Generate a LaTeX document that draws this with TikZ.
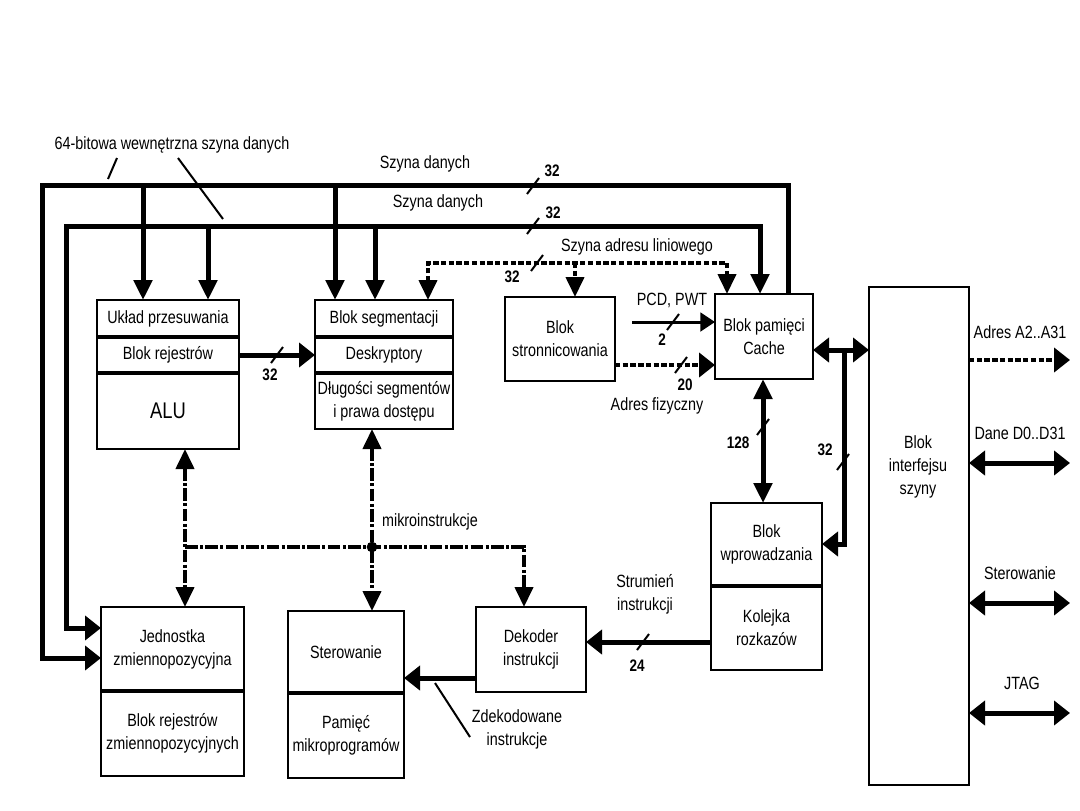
\documentclass[tikz,border=0pt]{standalone}
\usepackage{fontspec}
\setmainfont{Liberation Sans}[FakeStretch=0.81]
\usetikzlibrary{arrows.meta}
\newcommand\lblfont{\fontsize{13.3}{17.3}\selectfont}
\newcommand\numfont{\fontsize{12.5}{14}\selectfont\bfseries}
\newcommand\bigfont{\fontsize{17}{20}\selectfont}
\tikzset{
 Tv/.tip={Triangle[length=15pt,width=13.5pt]},
 Th/.tip={Triangle[length=12pt,width=18pt]},
 Ts/.tip={Triangle[length=11pt,width=14pt]},
 box/.style={draw, line width=2pt, inner sep=0pt, outer sep=0pt, align=center, font=\lblfont},
 bus/.style={line width=3.75pt},
 thinbus/.style={line width=2.25pt},
 dotbus/.style={line width=3pt, dash pattern=on 4pt off 1.8pt},
 ctrl/.style={line width=3pt, dash pattern=on 9.5pt off 1.8pt on 2.2pt off 1.8pt},
 slash/.style={line width=1.5pt},
 lbl/.style={font=\lblfont, inner sep=0pt, align=center},
 num/.style={font=\numfont, inner sep=0pt},
 leader/.style={line width=1.5pt},
 divider/.style={line width=2.6pt},
}
\newcommand\bx[6]{\node[box, minimum width={(#4-#2)*0.75pt}, minimum height={(#5-#3)*0.75pt}] (#1) at ({(#2+#4)/2},{(#3+#5)/2}) {#6};}
\begin{document}
\begin{tikzpicture}[x=0.75pt,y=-0.75pt]
\path[fill=white,use as bounding box] (0,0) rectangle (1080,810);

% boxes
\bx{uklad}{97}{300}{239}{337}{Układ przesuwania}
\bx{rej}{97}{337}{239}{373}{Blok rejestrów}
\bx{alu}{97}{373}{239}{449}{\bigfont ALU}
\bx{seg}{315}{300}{453}{337}{Blok segmentacji}
\bx{desk}{315}{337}{453}{373}{Deskryptory}
\bx{dlug}{315}{373}{453}{429}{Długości segmentów\\i prawa dostępu}
\bx{strona}{505}{297}{615}{381}{Blok\\stronnicowania}
\bx{cache}{715}{294}{813}{379}{Blok pamięci\\Cache}
\node[draw, line width=1.6pt, inner sep=0pt, outer sep=0pt, minimum width={100*0.75pt}, minimum height={498*0.75pt}] (biu) at (919,536) {};
\node[lbl] (biut) at (918,467) {Blok\\interfejsu\\szyny};
\bx{wpr}{711}{503}{822}{586}{Blok\\wprowadzania}
\bx{kol}{711}{586}{822}{670}{Kolejka\\rozkazów}
\bx{dek}{476}{607}{586}{692}{Dekoder\\instrukcji}
\bx{ster}{288}{611}{404}{693}{Sterowanie}
\bx{pam}{288}{693}{404}{778}{Pamięć\\mikroprogramów}
\bx{fpu}{101}{607}{244}{691}{Jednostka\\zmiennopozycyjna}
\bx{fpr}{101}{691}{244}{776}{Blok rejestrów\\zmiennopozycyjnych}

\foreach \n in {rej,alu,desk,dlug,kol,pam,fpr}
  \draw[divider] (\n.north west) -- (\n.north east);

% 64-bit internal data buses
\coordinate (b1a) at (42,185);
\coordinate (b1b) at (788,185);
\draw[bus,Th-] (fpu.west |- 0,658) -- (b1a |- 0,658) -- (b1a) -- (b1b) -- (b1b |- cache.north);
\coordinate (t11) at (143,185);
\coordinate (t12) at (335,185);
\draw[bus,-Tv] (t11) -- (t11 |- uklad.north);
\draw[bus,-Tv] (t12) -- (t12 |- seg.north);

\coordinate (b2a) at (66,226);
\coordinate (b2b) at (760,226);
\draw[bus,Th-Tv] (fpu.west |- 0,628) -- (b2a |- 0,628) -- (b2a) -- (b2b) -- (b2b |- cache.north);
\coordinate (t21) at (208,226);
\coordinate (t22) at (375,226);
\draw[bus,-Tv] (t21) -- (t21 |- uklad.north);
\draw[bus,-Tv] (t22) -- (t22 |- seg.north);

% linear address bus
\coordinate (la) at (428,263);
\coordinate (lb) at (727,263);
\coordinate (lc) at (575,263);
\draw[dotbus,Tv-Tv] (la |- seg.north) -- (la) -- (lb) -- (lb |- cache.north);
\draw[dotbus,-Tv] (lc) -- (lc |- strona.north);

% register -> descriptors
\draw[bus,-Th] (rej.east) -- (desk.west);

% paging -> cache
\coordinate (pcd) at (632,322);
\draw[thinbus,-Ts] (pcd) -- (pcd -| cache.west);
\draw[dotbus,-Th] (strona.east |- 0,365) -- (cache.west |- 0,365);

% cache <-> bus interface
\draw[bus,Th-Th] (cache.east |- 0,350) -- (biu.west |- 0,350);
\coordinate (j32) at (844,350);
\draw[bus,-Th] (j32) -- (j32 |- 0,544) -- (wpr.east |- 0,544);
\draw[bus,Tv-Tv] (cache.south -| 763,0) -- (wpr.north -| 763,0);

% prefetch -> decoder -> control
\draw[bus,-Th] (kol.west |- 0,642) -- (dek.east |- 0,642);
\draw[bus,-Th] (dek.west |- 0,678) -- (ster.east |- 0,678);

% microinstructions
\coordinate (m1) at (185,547);
\coordinate (m2) at (372,547);
\coordinate (m3) at (524,547);
\draw[ctrl,Tv-Tv] (m1 |- alu.south) -- (m1 |- fpu.north);
\draw[ctrl,Tv-Tv] (m2 |- dlug.south) -- (m2 |- ster.north);
\draw[ctrl,-Tv] (m1) -- (m3) -- (m3 |- dek.north);
\fill (m2) circle (4pt);

% external buses
\coordinate (oA) at (1070,360);
\coordinate (oD) at (1070,463);
\coordinate (oS) at (1070,603);
\coordinate (oJ) at (1070,713);
\draw[dotbus,-Th] (biu.east |- oA) -- (oA);
\draw[bus,Th-Th] (biu.east |- oD) -- (oD);
\draw[bus,Th-Th] (biu.east |- oS) -- (oS);
\draw[bus,Th-Th] (biu.east |- oJ) -- (oJ);

% width marks
\foreach \p in {(533,186),(533,226),(537,263),(277,355),(673,322),(681,365),(763,427),(843,462),(643,642)}
  \draw[slash] \p ++(-6,8) -- ++(12,-16);

\node[num] (n1) at (552,171) {32};
\node[num] (n2) at (553,213) {32};
\node[num] (n3) at (512,277) {32};
\node[num] (n4) at (270,375) {32};
\node[num] (n5) at (662,340) {2};
\node[num] (n6) at (685,385) {20};
\node[num] (n7) at (738,443) {128};
\node[num] (n8) at (825,450) {32};
\node[num] (n9) at (637,666) {24};

% labels
\node[lbl] (l64) at (172,145) {64-bitowa wewnętrzna szyna danych};
\draw[leader] (117,158) -- (108,179);
\draw[leader] (178,158) -- (223,219);
\node[lbl] (sd1) at (425,164) {Szyna danych};
\node[lbl] (sd2) at (438,203) {Szyna danych};
\node[lbl] (sal) at (637,247) {Szyna adresu liniowego};
\node[lbl] (lpcd) at (672,300) {PCD, PWT};
\node[lbl] (laf) at (657,406) {Adres fizyczny};
\node[lbl] (lmi) at (430,522) {mikroinstrukcje};
\node[lbl] (lstr) at (645,594) {Strumień\\instrukcji};
\node[lbl] (lzd) at (517,729) {Zdekodowane\\instrukcje};
\draw[leader] (435,683) -- (470,737);
\node[lbl] (lad) at (1020,332) {Adres A2..A31};
\node[lbl] (ldd) at (1020,433) {Dane D0..D31};
\node[lbl] (lst) at (1020,573) {Sterowanie};
\node[lbl] (ljt) at (1022,683) {JTAG};
\end{tikzpicture}
\end{document}
